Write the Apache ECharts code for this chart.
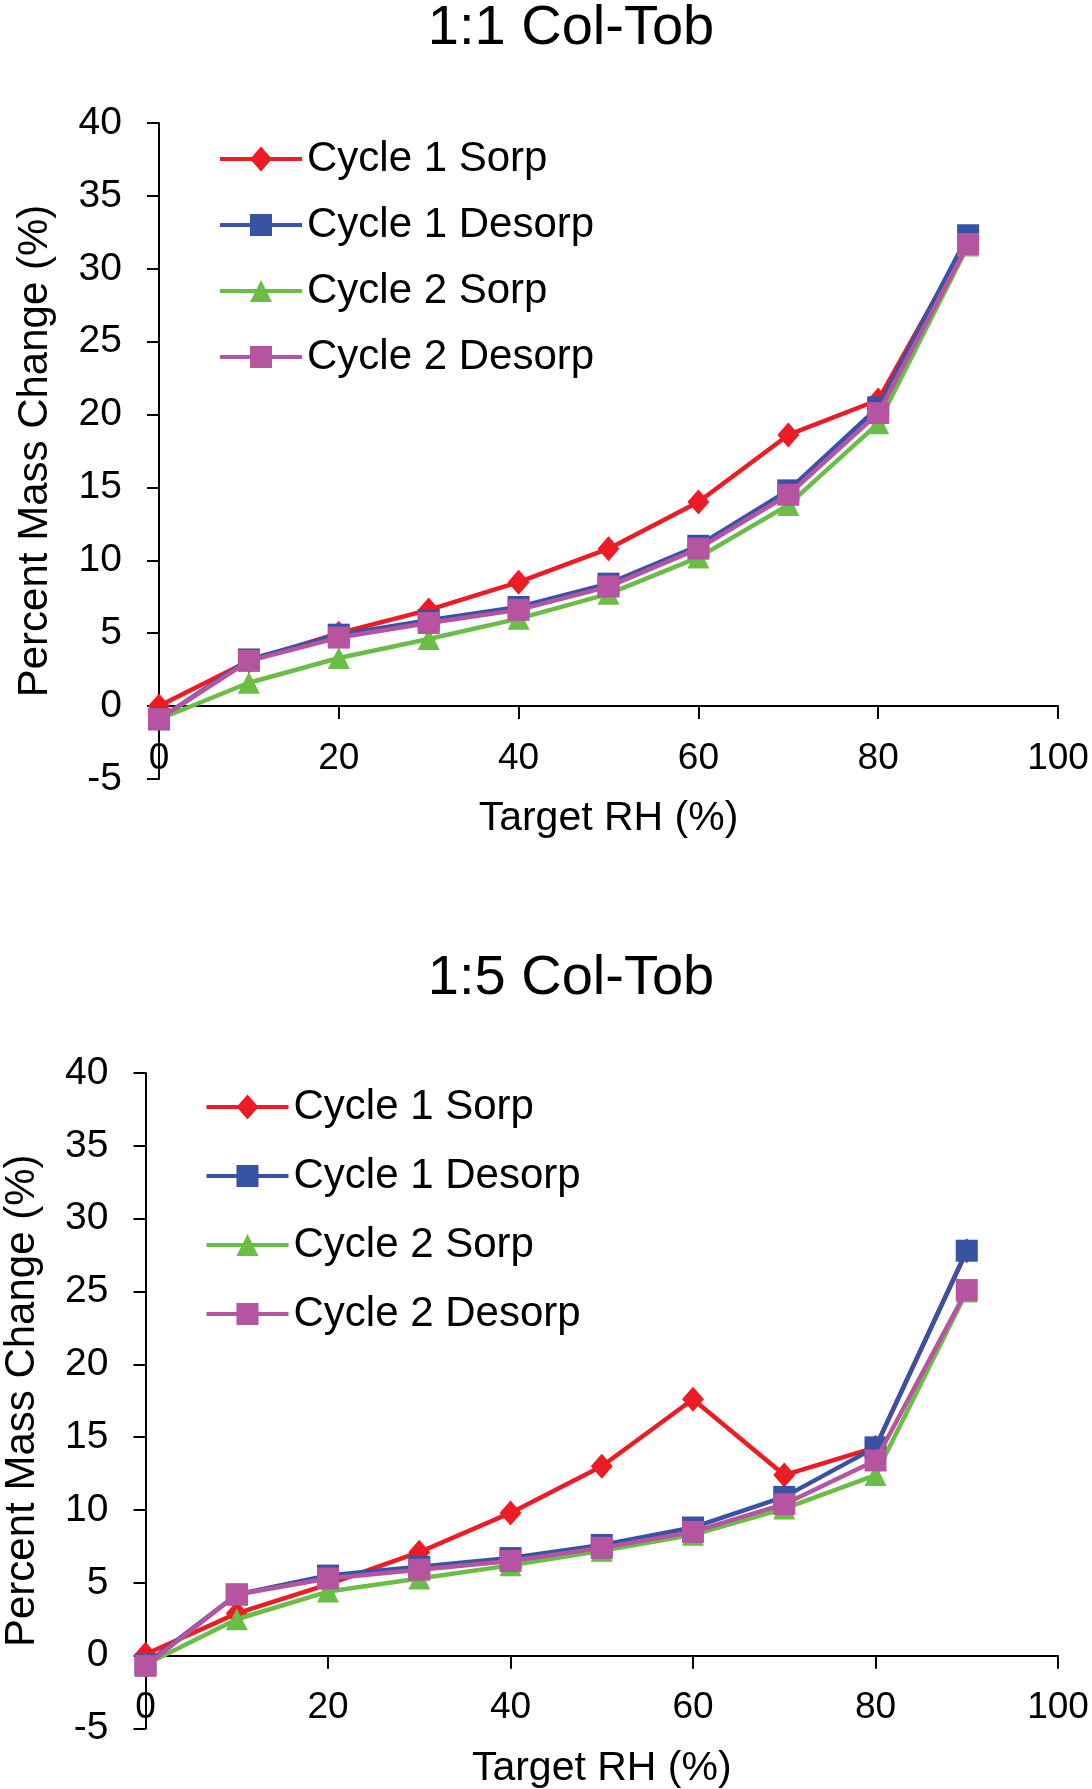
<!DOCTYPE html>
<html>
<head>
<meta charset="utf-8">
<script src="https://cdn.jsdelivr.net/npm/echarts@6/dist/echarts.min.js"></script>
<style>
html,body{margin:0;padding:0;background:#fff;}
#c{width:1092px;height:1789px;}
</style>
</head>
<body>
<div id="c"></div>
<script>
// ---- data ----
const rh = [0, 10, 20, 30, 40, 50, 60, 70, 80, 90];
const seriesNames = ['Cycle 1 Sorp', 'Cycle 1 Desorp', 'Cycle 2 Sorp', 'Cycle 2 Desorp'];
const titles = ['1:1 Col-Tob', '1:5 Col-Tob'];
const xTicks = [0, 20, 40, 60, 80, 100];
const yTicks = [-5, 0, 5, 10, 15, 20, 25, 30, 35, 40];

// 1:1 Col-Tob
const c1Sorp11   = [0.0, 3.1, 5.0, 6.6, 8.5, 10.8, 14.0, 18.6, 21.0, 32.0];
const c1Desorp11 = [-0.9, 3.2, 4.9, 5.9, 6.8, 8.4, 11.0, 14.8, 20.5, 32.3];
const c2Sorp11   = [-0.9, 1.6, 3.3, 4.6, 6.0, 7.7, 10.2, 13.8, 19.4, 31.6];
const c2Desorp11 = [-0.9, 3.1, 4.7, 5.7, 6.6, 8.2, 10.8, 14.5, 20.1, 31.7];

// 1:5 Col-Tob
const c1Sorp15   = [0.1, 2.9, 4.9, 7.1, 9.8, 13.0, 17.6, 12.4, 14.3, 27.8];
const c1Desorp15 = [-0.6, 4.2, 5.5, 6.1, 6.7, 7.6, 8.8, 10.9, 14.3, 27.8];
const c2Sorp15   = [-0.6, 2.5, 4.4, 5.3, 6.2, 7.2, 8.3, 10.1, 12.4, 25.0];
const c2Desorp15 = [-0.7, 4.2, 5.3, 5.9, 6.5, 7.4, 8.5, 10.4, 13.4, 25.1];

// ---- styling ----
const FONT = 'Liberation Sans, Arial, Helvetica, sans-serif';
const colors = ['#ED1C24', '#3953A4', '#6ABD45', '#B654A1'];
const symbols = ['diamond', 'rect', 'triangle', 'rect'];
const symbolSizes = [[22, 25], 22, 22, 22];

// legend icons: line + marker in one path (82 x 25 box)
const LINE = 'M0,10.5L82,10.5L82,14.5L0,14.5Z';
const legendIcons = [
  'path://' + LINE + 'M41,0L52,12.5L41,25L30,12.5Z',
  'path://' + LINE + 'M30,1.5L52,1.5L52,23.5L30,23.5Z',
  'path://' + LINE + 'M41,1.5L52,23.5L30,23.5Z',
  'path://' + LINE + 'M30,1.5L52,1.5L52,23.5L30,23.5Z'
];

const chart = echarts.init(document.getElementById('c'), null, {renderer: 'canvas'});

const grids = [
  {left: 159, right: 34, top: 123, height: 656, outerBoundsMode: 'none', containLabel: false},
  {left: 145.5, right: 34, top: 1073, height: 655.5, outerBoundsMode: 'none', containLabel: false}
];

function xAxis(i) {
  return {
    type: 'value', gridIndex: i, min: 0, max: 100, interval: 20,
    name: 'Target RH (%)', nameLocation: 'middle', nameGap: 40,
    nameTextStyle: {fontFamily: FONT, fontSize: 41, color: '#000', verticalAlign: 'middle'},
    axisLine: {onZero: true, lineStyle: {color: '#000', width: 2}},
    axisTick: {show: true, inside: false, length: 13, lineStyle: {color: '#000', width: 2}},
    axisLabel: {fontFamily: FONT, fontSize: 37, color: '#000', margin: -39},
    splitLine: {show: false}
  };
}
function yAxis(i, gap) {
  return {
    type: 'value', gridIndex: i, min: -5, max: 40, interval: 5,
    name: 'Percent Mass Change (%)', nameLocation: 'middle', nameGap: gap,
    nameTextStyle: {fontFamily: FONT, fontSize: 42, color: '#000', verticalAlign: 'middle'},
    axisLine: {show: true, onZero: false, lineStyle: {color: '#000', width: 2}},
    axisTick: {show: true, inside: false, length: 12, lineStyle: {color: '#000', width: 2}},
    axisLabel: {fontFamily: FONT, fontSize: 39, color: '#000', margin: 37},
    splitLine: {show: false}
  };
}

const dataSets = [
  [c1Sorp11, c1Desorp11, c2Sorp11, c2Desorp11],
  [c1Sorp15, c1Desorp15, c2Sorp15, c2Desorp15]
];

const series = [];
dataSets.forEach((set, g) => {
  set.forEach((vals, k) => {
    series.push({
      name: seriesNames[k],
      type: 'line',
      xAxisIndex: g, yAxisIndex: g,
      data: rh.map((x, j) => [x, vals[j]]),
      symbol: symbols[k], symbolSize: symbolSizes[k],
      showAllSymbol: true,
      lineStyle: {color: colors[k], width: 4.5},
      itemStyle: {color: colors[k], borderWidth: 0},
      z: 2 + k,
      animation: false
    });
  });
});

function legend(left, top, gap) {
  return {
    orient: 'vertical', left: left, top: top, itemGap: gap,
    itemWidth: 82, itemHeight: 25,
    data: seriesNames.map((n, k) => ({name: n, icon: legendIcons[k], itemStyle: {color: colors[k]}})),
    textStyle: {fontFamily: FONT, fontSize: 42, color: '#000', lineHeight: 40, padding: [0, 0, 0, 0]},
    padding: 0,
    itemStyle: {borderWidth: 0},
    lineStyle: {width: 0},
    selectedMode: false
  };
}

const option = {
  backgroundColor: '#fff',
  animation: false,
  title: [
    {text: titles[0], left: 566, top: -4, textAlign: 'center',
     textStyle: {fontFamily: FONT, fontSize: 56, fontWeight: 'normal', color: '#000'}},
    {text: titles[1], left: 566, top: 946, textAlign: 'center',
     textStyle: {fontFamily: FONT, fontSize: 56, fontWeight: 'normal', color: '#000'}}
  ],
  legend: [legend(220, 138, 24), legend(206.5, 1086, 27)],
  grid: grids,
  xAxis: [xAxis(0), xAxis(1)],
  yAxis: [yAxis(0, 123.5), yAxis(1, 123)],
  series: series
};
chart.setOption(option);
</script>
</body>
</html>
